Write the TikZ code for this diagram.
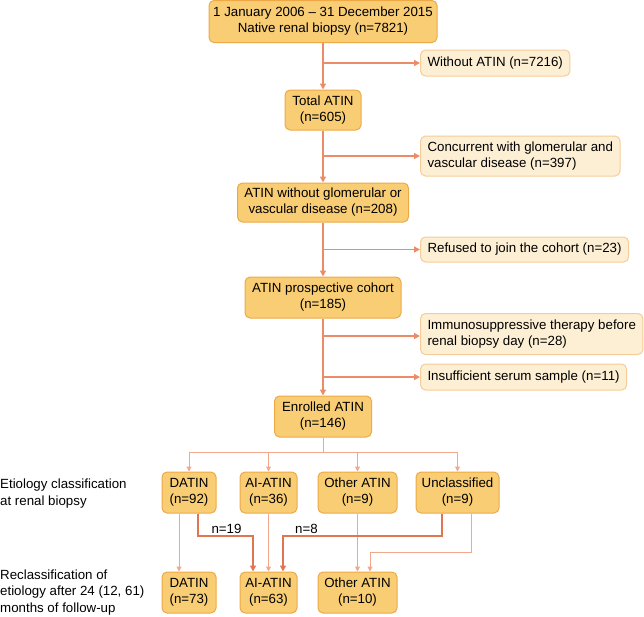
\documentclass[tikz,border=0pt]{standalone}
\usepackage{fontspec}
\setmainfont{Liberation Sans}
\usetikzlibrary{arrows.meta}
\definecolor{mainfill}{HTML}{F9CD74}
\definecolor{mainborder}{HTML}{EDA946}
\definecolor{sidefill}{HTML}{FDEFD4}
\definecolor{sideborder}{HTML}{F5CD98}
\definecolor{conncol}{HTML}{EC8B68}
\definecolor{thincol}{HTML}{F2A88D}
\definecolor{thickcol}{HTML}{E07552}
\tikzset{
  mainbox/.style={rectangle, rounded corners=5pt, draw=mainborder, fill=mainfill, line width=1pt, align=center, inner sep=0pt, font=\fontsize{13.3}{16}\selectfont},
  sidebox/.style={rectangle, rounded corners=5pt, draw=sideborder, fill=sidefill, line width=1pt, align=left, inner xsep=7pt, inner ysep=0pt, anchor=west, font=\fontsize{13.3}{16}\selectfont},
  conn/.style={draw=conncol, line width=1.4pt, -{Triangle[length=6pt,width=6pt]}},
  thin/.style={draw=thincol, line width=1pt, -{Triangle[length=5pt,width=5pt]}},
  thick/.style={draw=thickcol, line width=1.8pt, -{Triangle[length=6pt,width=6pt]}},
  lbl/.style={font=\fontsize{13.3}{16.5}\selectfont, align=left, inner sep=0pt},
}
\begin{document}
\begin{tikzpicture}[x=1pt, y=-1pt]
\useasboundingbox (0,0) rectangle (644,616);
% main column
\node[mainbox, minimum width=228pt, minimum height=42pt] (top) at (323,21.5) {1 January 2006 -- 31 December 2015\\Native renal biopsy (n=7821)};
\node[mainbox, minimum width=76pt, minimum height=40pt] (total) at (323,110) {Total ATIN\\(n=605)};
\node[mainbox, minimum width=171pt, minimum height=39pt] (wo) at (323,202.5) {ATIN without glomerular or\\vascular disease (n=208)};
\node[mainbox, minimum width=156pt, minimum height=41pt] (pros) at (323,297.5) {ATIN prospective cohort\\(n=185)};
\node[mainbox, minimum width=97pt, minimum height=41pt] (enr) at (323,416.5) {Enrolled ATIN\\(n=146)};
% side boxes
\node[sidebox, minimum height=26pt] (s1) at (420,63) {Without ATIN (n=7216)};
\node[sidebox, minimum height=40pt] (s2) at (420,156) {Concurrent with glomerular and\\vascular disease (n=397)};
\node[sidebox, minimum height=25pt] (s3) at (420,249.5) {Refused to join the cohort (n=23)};
\node[sidebox, minimum height=41pt] (s4) at (420,334) {Immunosuppressive therapy before\\renal biopsy day (n=28)};
\node[sidebox, minimum height=26pt] (s5) at (420,377) {Insufficient serum sample (n=11)};
% main connectors
\draw[conn] (top) -- (total);
\draw[conn] (total) -- (wo);
\draw[conn] (wo) -- (pros);
\draw[conn] (pros) -- (enr);
\draw[conn] (top.south |- s1.west) -- (s1.west);
\draw[conn] (total.south |- s2.west) -- (s2.west);
\draw[conn] (wo.south |- s3.west) -- (s3.west);
\draw[conn] (pros.south |- 0,336) coordinate (b4) -- (b4 -| s4.west);
\draw[conn] (pros.south |- s5.west) -- (s5.west);
% first classification row
\node[mainbox, minimum width=54pt, minimum height=41pt] (d1) at (189,492.5) {DATIN\\(n=92)};
\node[mainbox, minimum width=57pt, minimum height=41pt] (a1) at (268.5,492.5) {AI-ATIN\\(n=36)};
\node[mainbox, minimum width=79pt, minimum height=41pt] (o1) at (357.5,492.5) {Other ATIN\\(n=9)};
\node[mainbox, minimum width=83pt, minimum height=41pt] (u1) at (457.5,492.5) {Unclassified\\(n=9)};
% second row
\node[mainbox, minimum width=54pt, minimum height=41pt] (d2) at (189,592.5) {DATIN\\(n=73)};
\node[mainbox, minimum width=57pt, minimum height=41pt] (a2) at (268.5,592.5) {AI-ATIN\\(n=63)};
\node[mainbox, minimum width=79pt, minimum height=41pt] (o2) at (357.5,592.5) {Other ATIN\\(n=10)};
% distribution
\coordinate (split) at (323,452);
\draw[thincol, line width=1pt] (enr.south) -- (split);
\draw[thin] (split) -| (d1.north);
\draw[thin] (split) -| (a1.north);
\draw[thin] (split) -| (o1.north);
\draw[thin] (split) -| (u1.north);
% reclassification
\draw[thin] ([xshift=-10pt]d1.south) -- ([xshift=-10pt]d2.north);
\draw[thin] (a1.south) -- (a2.north);
\draw[thin] (o1.south) -- (o2.north);
\draw[thin] ([xshift=14pt]u1.south) |- (370,552) coordinate (ou) -- (ou |- o2.north);
\draw[thick] ([xshift=9pt]d1.south) |- (253,536) coordinate (da) -- (da |- a2.north);
\draw[thick] ([xshift=-15.5pt]u1.south) |- (283,536) coordinate (ua) -- (ua |- a2.north);
\node[font=\fontsize{13.3}{16}\selectfont, inner sep=0pt] (n19) at (226.5,529) {n=19};
\node[font=\fontsize{13.3}{16}\selectfont, inner sep=0pt] (n8) at (306.5,529) {n=8};
% left labels
\node[lbl, anchor=west] (l1) at (0,493.5) {Etiology classification\\at renal biopsy};
\node[lbl, anchor=west] (l2) at (0,592.5) {Reclassification of\\etiology after 24 (12, 61)\\months of follow-up};
\end{tikzpicture}
\end{document}
